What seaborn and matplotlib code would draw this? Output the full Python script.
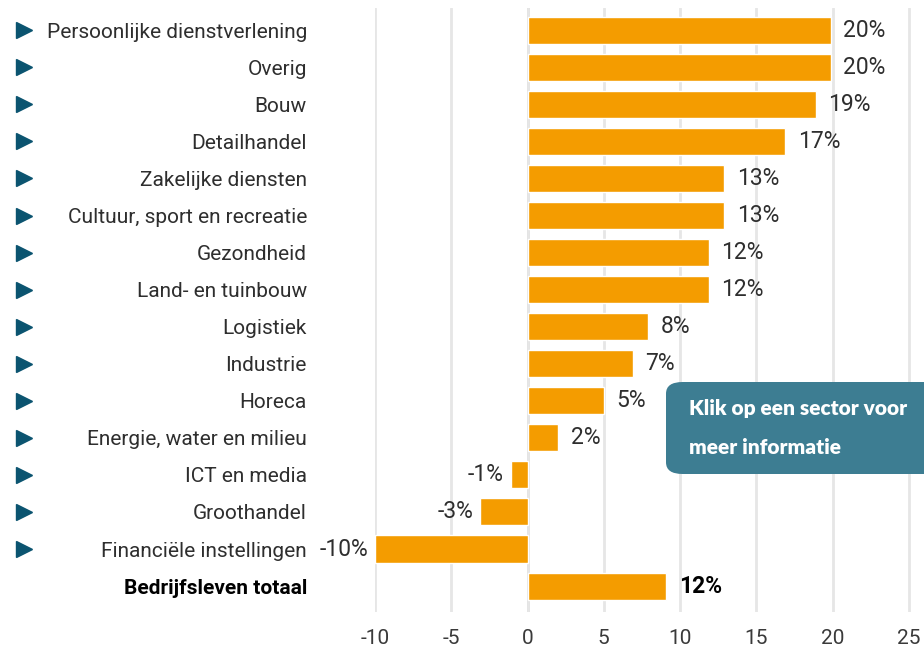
import matplotlib
matplotlib.use("Agg")
import matplotlib.pyplot as plt
import seaborn as sns
import pandas as pd
from matplotlib.patches import FancyBboxPatch
import matplotlib.transforms as mtransforms

# data
sectors = ["Persoonlijke dienstverlening", "Overig", "Bouw", "Detailhandel",
           "Zakelijke diensten", "Cultuur, sport en recreatie", "Gezondheid",
           "Land- en tuinbouw", "Logistiek", "Industrie", "Horeca",
           "Energie, water en milieu", "ICT en media", "Groothandel",
           "Financiële instellingen", "Bedrijfsleven totaal"]
values = [19.9, 19.9, 18.9, 16.9, 12.9, 12.9, 11.9, 11.9, 7.9, 6.9, 5.0,
          2.0, -1.1, -3.1, -10.0, 9.1]
value_labels = ["20%", "20%", "19%", "17%", "13%", "13%", "12%", "12%", "8%",
                "7%", "5%", "2%", "-1%", "-3%", "-10%", "12%"]
x_ticks = [-10, -5, 0, 5, 10, 15, 20, 25]

df = pd.DataFrame({"sector": sectors, "value": values})

sns.set_theme(style="white")
plt.rcParams["font.family"] = ["Roboto", "DejaVu Sans"]

fig = plt.figure(figsize=(9.24, 6.46), dpi=100)
ax = fig.add_axes([375 / 924, 1 - 612 / 646, 549 / 924, 604 / 646])

sns.barplot(data=df, x="value", y="sector", orient="h", color="#f49c00",
            width=0.73, saturation=1, ax=ax)

ax.set_xlim(-10, 26)
ax.set_ylim(15.7, -0.6)
ax.set_xticks(x_ticks)
ax.set_xticklabels([str(t) for t in x_ticks], fontsize=15, color="#3a3a3a")
ax.set_xlabel("")
ax.set_ylabel("")
for s in ax.spines.values():
    s.set_visible(False)
ax.tick_params(axis="x", length=0, pad=12)
ax.tick_params(axis="y", length=0, pad=49)
ax.xaxis.grid(True, color="#e6e6e6", linewidth=2)
ax.set_axisbelow(True)
ax.axvline(0, color="#d0d0d0", linewidth=2, zorder=0.5)

for lab in ax.get_yticklabels():
    lab.set_fontsize(15)
    lab.set_color("#2e2e2e")
    if lab.get_text() == "Bedrijfsleven totaal":
        lab.set_fontweight("bold")
        lab.set_color("#000000")

# value labels
for i, (v, txt) in enumerate(zip(values, value_labels)):
    bold = sectors[i] == "Bedrijfsleven totaal"
    if v >= 0:
        ax.annotate(txt, (v, i), xytext=(9, 0), textcoords="offset points",
                    ha="left", va="center", fontsize=16.5,
                    fontweight="bold" if bold else "normal",
                    color="#000000" if bold else "#2e2e2e")
    else:
        ax.annotate(txt, (v, i), xytext=(-5, 0), textcoords="offset points",
                    ha="right", va="center", fontsize=16.5, color="#2e2e2e")

# triangles in front of each clickable sector
tr = mtransforms.blended_transform_factory(fig.transFigure, ax.transData)
for i in range(len(sectors) - 1):
    ax.plot([24 / 924], [i], marker=">", markersize=11, color="#0b5470",
            transform=tr, clip_on=False, linestyle="none")

# callout box
box = FancyBboxPatch((666 / 924, 1 - 474 / 646), 290 / 924, 92 / 646,
                     boxstyle="round,pad=0,rounding_size=0.018",
                     transform=fig.transFigure, facecolor="#3d7d92",
                     edgecolor="none", zorder=5, clip_on=False)
fig.patches.append(box)
fig.text(689 / 924, 1 - 409 / 646, "Klik op een sector voor", color="white",
         fontsize=15, fontweight="heavy", family=["Lato", "DejaVu Sans"],
         va="center", ha="left", zorder=6)
fig.text(689 / 924, 1 - 447 / 646, "meer informatie", color="white",
         fontsize=15, fontweight="heavy", family=["Lato", "DejaVu Sans"],
         va="center", ha="left", zorder=6)

fig.savefig("out.png", dpi=100)
